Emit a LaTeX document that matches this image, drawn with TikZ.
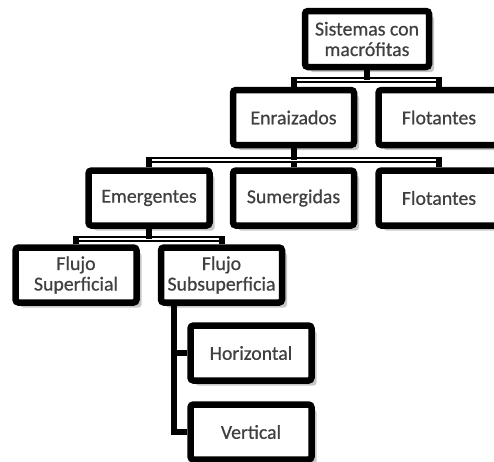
\documentclass[tikz,border=0pt]{standalone}
\usepackage{fontspec}
\setmainfont{Carlito}[FakeBold=0.6]
\usetikzlibrary{shadows,backgrounds}
\tikzset{
  box/.style={draw=black, line width=6.5pt, fill=white, rounded corners=3pt,
    minimum width=121pt, minimum height=55pt, inner sep=0pt, align=center,
    text=black!75, font=\fontsize{19.8}{20.5}\selectfont,
    drop shadow={shadow xshift=5pt, shadow yshift=-5pt, opacity=0.22, fill=black}},
  conn/.style={draw=black, line width=6pt, line join=miter},
  stripe/.style={draw=white, line width=1.8pt}
}
\begin{document}
\begin{tikzpicture}[x=1pt, y=-1pt]
\useasboundingbox (0,0) rectangle (494,461);
\clip (0,0) rectangle (494,461);
% nodes
\node[box, minimum width=124pt, minimum height=56pt] (sis) at (367,39) {Sistemas con\\macrófitas};
\node[box] (enr) at (293.5,117.5) {Enraizados};
\node[box] (flo1) at (439,117.5) {Flotantes};
\node[box] (eme) at (149,198) {Emergentes};
\node[box] (sum) at (293.5,198) {Sumergidas};
\node[box] (flo2) at (439,198) {Flotantes};
\node[box] (fsup) at (76,275) {Flujo\\Superficial};
\node[box] (fsub) at (221.5,275) {Flujo\\Subsuperficia};
\node[box] (hor) at (251,353) {Horizontal};
\node[box] (ver) at (251,432) {Vertical};
% bus coordinates
\coordinate (b1) at (367,80);
\coordinate (b2) at (293.5,160);
\coordinate (b3) at (149,239);
\coordinate (trunk) at (174,300);
\begin{scope}[on background layer]
  % level 1
  \draw[conn] (enr.north) |- (flo1.north |- b1) -- (flo1.north);
  \draw[stripe] (enr.north |- b1) ++(3,0) -- ([xshift=-3pt]flo1.north |- b1);
  \draw[conn] (sis.south) -- (b1);
  % level 2
  \draw[conn] (eme.north) |- (flo2.north |- b2) -- (flo2.north);
  \draw[conn] (sum.north) -- (b2);
  \draw[stripe] (eme.north |- b2) ++(3,0) -- ([xshift=-3pt]flo2.north |- b2);
  \draw[conn] (enr.south) -- (b2);
  % level 3
  \draw[conn] (fsup.north) |- (fsub.north |- b3) -- (fsub.north);
  \draw[stripe] (fsup.north |- b3) ++(3,0) -- ([xshift=-3pt]fsub.north |- b3);
  \draw[conn] (eme.south) -- (b3);
  % level 4
  \draw[conn] (trunk) |- (hor.west);
  \draw[conn] (trunk) |- (ver.west);
\end{scope}
\end{tikzpicture}
\end{document}
